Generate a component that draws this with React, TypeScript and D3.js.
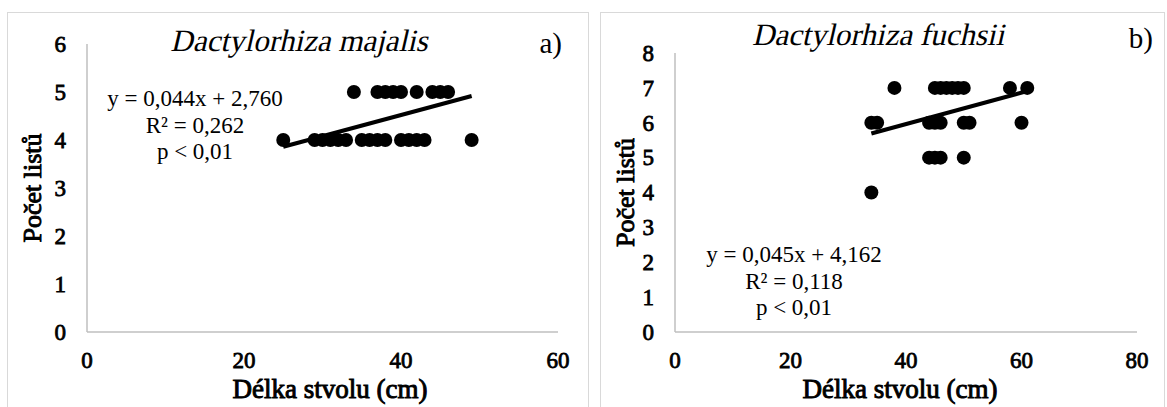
import React from "react";
import * as d3 from "d3";

// Dactylorhiza majalis – délka stvolu (cm) / počet listů
const majalisLength = [34, 37, 38, 39, 40, 42, 44, 45, 46, 25, 29, 30, 31, 32, 33, 35, 36, 37, 38, 40, 41, 42, 43, 49];
const majalisLeaves = [5, 5, 5, 5, 5, 5, 5, 5, 5, 4, 4, 4, 4, 4, 4, 4, 4, 4, 4, 4, 4, 4, 4, 4];
const majalisFit = [0.044, 2.76];
const majalisStats = ["y = 0,044x + 2,760", "R² = 0,262", "p < 0,01"];

// Dactylorhiza fuchsii
const fuchsiiLength = [38, 45, 46, 47, 48, 49, 50, 58, 61, 34, 35, 44, 45, 46, 50, 51, 60, 44, 45, 46, 50, 34];
const fuchsiiLeaves = [7, 7, 7, 7, 7, 7, 7, 7, 7, 6, 6, 6, 6, 6, 6, 6, 6, 5, 5, 5, 5, 4];
const fuchsiiFit = [0.045, 4.162];
const fuchsiiStats = ["y = 0,045x + 4,162", "R² = 0,118", "p < 0,01"];

const majalisXTicks = [0, 20, 40, 60];
const majalisYTicks = [0, 1, 2, 3, 4, 5, 6];
const fuchsiiXTicks = [0, 20, 40, 60, 80];
const fuchsiiYTicks = [0, 1, 2, 3, 4, 5, 6, 7, 8];

const font = "'Liberation Serif', 'Times New Roman', serif";

// the serif bold / italic faces are not there, so fake them from the regular one
function Txt(props: {
  x: number;
  y: number;
  size: number;
  anchor?: string;
  bold?: boolean;
  italic?: boolean;
  rotate?: number;
  dy?: string;
  children: React.ReactNode;
}) {
  const tf = [`translate(${props.x},${props.y})`];
  if (props.rotate) tf.push(`rotate(${props.rotate})`);
  if (props.italic) tf.push("skewX(-13)");
  return (
    <text
      transform={tf.join(" ")}
      dy={props.dy}
      fontFamily={font}
      fontSize={props.size}
      textAnchor={props.anchor || "start"}
      fill="#000"
      stroke={props.bold ? "#000" : "none"}
      strokeWidth={props.bold ? props.size * 0.035 : 0}
      strokeLinejoin="miter"
    >
      {props.children}
    </text>
  );
}

type PanelProps = {
  box: [number, number];
  plot: { left: number; right: number; top: number; bottom: number };
  xs: number[];
  ys: number[];
  fit: number[];
  xTicks: number[];
  yTicks: number[];
  title: string;
  titlePos: [number, number];
  tag: string;
  tagPos: [number, number];
  stats: string[];
  statsPos: [number, number];
  xTitleX: number;
  yTitleX: number;
};

function Panel(p: PanelProps) {
  const x = d3
    .scaleLinear()
    .domain(d3.extent(p.xTicks) as [number, number])
    .range([p.plot.left, p.plot.right]);
  const y = d3
    .scaleLinear()
    .domain(d3.extent(p.yTicks) as [number, number])
    .range([p.plot.bottom, p.plot.top]);
  const [x0, x1] = d3.extent(p.xs) as [number, number];
  const fitLine = d3
    .line<number>()
    .x((d) => x(d))
    .y((d) => y(p.fit[0] * d + p.fit[1]));
  const [bx, bw] = p.box;

  return (
    <g>
      <rect x={bx + 0.5} y={12.5} width={bw} height={420} fill="white" stroke="#d9d9d9" />
      <Txt x={p.titlePos[0]} y={p.titlePos[1]} size={31} italic anchor="middle">
        {p.title}
      </Txt>
      <Txt x={p.tagPos[0]} y={p.tagPos[1]} size={29} anchor="end">
        {p.tag}
      </Txt>
      <line x1={p.plot.left} x2={p.plot.left} y1={p.plot.top} y2={p.plot.bottom} stroke="#bfbfbf" strokeWidth={1.5} />
      <line x1={p.plot.left} x2={p.plot.right} y1={p.plot.bottom} y2={p.plot.bottom} stroke="#bfbfbf" strokeWidth={1.5} />
      {p.yTicks.map((t) => (
        <Txt key={"y" + t} x={p.plot.left - 21} y={y(t)} dy="0.34em" size={23} bold anchor="end">
          {t}
        </Txt>
      ))}
      {p.xTicks.map((t) => (
        <Txt key={"x" + t} x={x(t)} y={p.plot.bottom + 36} size={23} bold anchor="middle">
          {t}
        </Txt>
      ))}
      <Txt x={p.xTitleX} y={p.plot.bottom + 66} size={27} bold anchor="middle">
        Délka stvolu (cm)
      </Txt>
      <Txt x={p.yTitleX} y={(p.plot.top + p.plot.bottom) / 2} size={26} bold rotate={-90} anchor="middle">
        Počet listů
      </Txt>
      {p.xs.map((d, i) => (
        <circle key={i} cx={x(d)} cy={y(p.ys[i])} r={7} fill="#000" />
      ))}
      <path d={fitLine([x0, x1]) || ""} stroke="#000" strokeWidth={4} fill="none" />
      {p.stats.map((s, i) => (
        <Txt key={s} x={p.statsPos[0]} y={p.statsPos[1] + i * 26.5} size={23} anchor="middle">
          {s}
        </Txt>
      ))}
    </g>
  );
}

export default function App() {
  return (
    <svg width={1167} height={407} style={{ position: "absolute", left: 0, top: 0 }}>
      <rect width={1167} height={407} fill="white" />
      <Panel
        box={[7, 581]}
        plot={{ left: 87, right: 558, top: 44, bottom: 332 }}
        xs={majalisLength}
        ys={majalisLeaves}
        fit={majalisFit}
        xTicks={majalisXTicks}
        yTicks={majalisYTicks}
        title="Dactylorhiza majalis"
        titlePos={[299, 51]}
        tag="a)"
        tagPos={[562, 53]}
        stats={majalisStats}
        statsPos={[195, 106]}
        xTitleX={330}
        yTitleX={41}
      />
      <Panel
        box={[600, 564]}
        plot={{ left: 675, right: 1137, top: 53, bottom: 332 }}
        xs={fuchsiiLength}
        ys={fuchsiiLeaves}
        fit={fuchsiiFit}
        xTicks={fuchsiiXTicks}
        yTicks={fuchsiiYTicks}
        title="Dactylorhiza fuchsii"
        titlePos={[878, 45]}
        tag="b)"
        tagPos={[1153, 48]}
        stats={fuchsiiStats}
        statsPos={[794, 262]}
        xTitleX={900}
        yTitleX={634}
      />
    </svg>
  );
}
